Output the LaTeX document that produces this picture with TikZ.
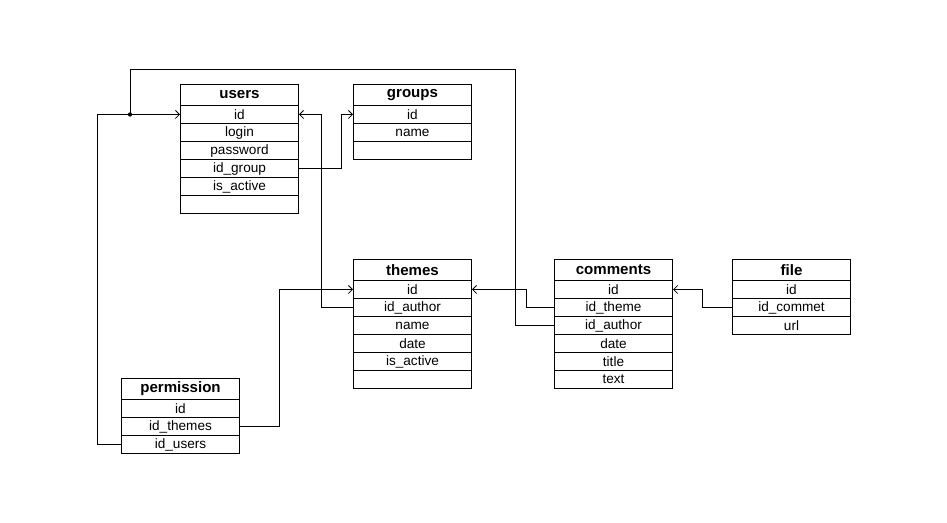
\documentclass[tikz,border=0pt]{standalone}
\usepackage{fontspec}
\setmainfont{Liberation Sans}
\usetikzlibrary{arrows.meta}
\tikzset{
  cell/.style={draw, line width=0.75pt, minimum width=88.5pt, minimum height=13.5pt, inner sep=0pt, font=\fontsize{10.2pt}{12pt}\selectfont, anchor=north west},
  hdr/.style={cell, minimum height=15.75pt, font=\fontsize{11.3pt}{13pt}\selectfont\bfseries},
  conn/.style={line width=0.75pt, -{Straight Barb[length=3pt,width=6pt,line width=0.6pt]}},
  plain/.style={line width=0.75pt}
}
\newcommand\dbtable[5]{%
  \node[hdr] (#1-0) at (#2,#3) {#4};
  \foreach \t [count=\i] in {#5} {
    \node[cell] (#1-\i) at (#2,{#3+21+(\i-1)*18}) {\t};
  }
}
\begin{document}
\begin{tikzpicture}[x=0.75pt,y=-0.75pt]
\useasboundingbox[fill=white] (0,0) rectangle (947,523);
\dbtable{users}{180}{84}{users}{id,login,password,id\_group,is\_active,{}}
\dbtable{groups}{353}{84}{groups}{id,name,{}}
\dbtable{themes}{353}{259}{themes}{id,id\_author,name,date,is\_active,{}}
\dbtable{comments}{554}{259}{comments}{id,id\_theme,id\_author,date,title,text}
\dbtable{file}{732}{259}{file}{id,id\_commet,url}
\dbtable{perm}{121}{378}{permission}{id,id\_themes,id\_users}
% junction
\coordinate (j) at ([xshift=-37.5pt]users-1.west);
\coordinate (bendC) at (515,70);
\draw[conn] (perm-3.west) -- ++(-24,0) |- (users-1.west);
\draw[plain] (comments-3.west) -| (bendC) -| (j);
\fill (j) circle (1.6pt);
\draw[conn] (themes-2.west) -- ++(-32,0) |- (users-1.east);
\draw[conn] (users-4.east) -- ++(42,0) |- (groups-1.west);
\draw[conn] (perm-2.east) -- ++(39,0) |- (themes-1.west);
\draw[conn] (comments-2.west) -- ++(-28,0) |- (themes-1.east);
\draw[conn] (file-2.west) -- ++(-30,0) |- (comments-1.east);
\end{tikzpicture}
\end{document}
